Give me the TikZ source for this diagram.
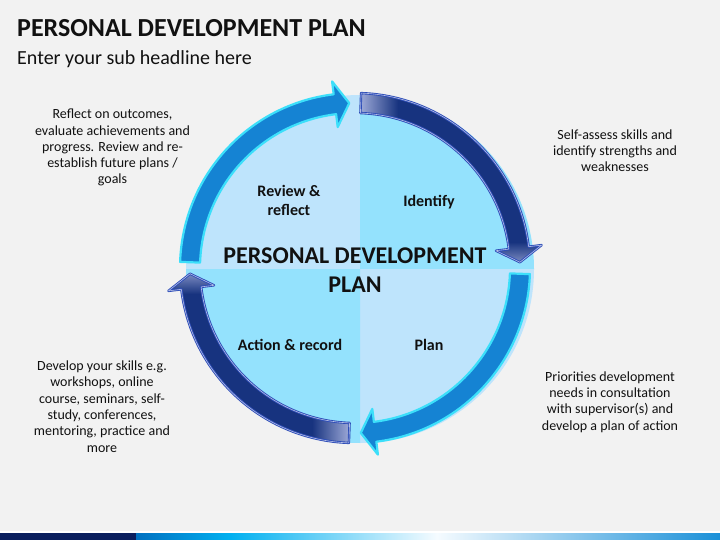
\documentclass[tikz,border=0pt]{standalone}
\usepackage{fontspec}
\setmainfont{Carlito}
\usetikzlibrary{calc}
\definecolor{bg}{HTML}{F2F2F2}
\definecolor{qlight}{HTML}{BEE4FC}
\definecolor{qcyan}{HTML}{94E2FD}
\definecolor{amid}{HTML}{1583D3}
\definecolor{aglow}{HTML}{3CDFFA}
\definecolor{anavy}{HTML}{17337F}
\definecolor{anavyedge}{HTML}{2D4DB8}
\definecolor{alav}{HTML}{B4BDE6}
\definecolor{txt}{HTML}{111111}
\definecolor{barnavy}{HTML}{0B1F5E}
\definecolor{barblue}{HTML}{0070C0}
\definecolor{barsky}{HTML}{00B0F0}
\definecolor{barwhite}{HTML}{F5FBFF}
\definecolor{barend}{HTML}{1A90D8}
\newcommand{\SetAng}[1]{%
  \pgfmathsetmacro\sA{#1-2}%
  \pgfmathsetmacro\bA{#1-83}%
  \pgfmathsetmacro\tA{#1-88}}
\newcommand{\ArrowShape}{($(C)+(\sA:175pt)$) arc[start angle=\sA,end angle=\bA,radius=175pt]
  -- ($(C)+(\bA:188pt)$) -- ($(C)+(\tA:165pt)$) -- ($(C)+(\bA:142pt)$)
  -- ($(C)+(\bA:155pt)$) arc[start angle=\bA,end angle=\sA,radius=155pt] -- cycle}
\begin{document}
\begin{tikzpicture}[x=1pt,y=1pt,
  midarrow/.style={fill=amid, draw=aglow, line width=2.2pt, line join=round},
  navyedge/.style={draw=anavyedge, line width=2.4pt, line join=round},
  navyhi/.style={draw=alav, line width=0.6pt, line join=round},
  sidetext/.style={font=\fontsize{14}{16.3}\selectfont, text=txt, align=center, inner sep=0pt, anchor=base},
  quadlabel/.style={font=\fontsize{16}{18.5}\selectfont\bfseries, text=txt, align=center, inner sep=0pt, anchor=base},
  centertitle/.style={font=\fontsize{24}{29}\selectfont\bfseries, text=txt, inner sep=0pt, anchor=base}]
\fill[bg] (0,0) rectangle (720,-540);
\useasboundingbox (0,0) rectangle (720,-540);

% quadrants
\coordinate (Q) at (360,-269);
\coordinate (C) at (355,-268);
\fill[qlight] (Q) -- ++(180:174pt) arc[start angle=180,end angle=90,radius=174pt] -- cycle;
\fill[qcyan] (Q) -- ++(90:174pt) arc[start angle=90,end angle=0,radius=174pt] -- cycle;
\fill[qlight] (Q) -- ++(0:174pt) arc[start angle=0,end angle=-90,radius=174pt] -- cycle;
\fill[qcyan] (Q) -- ++(-90:174pt) arc[start angle=-90,end angle=-180,radius=174pt] -- cycle;

% arrow 1: top-left (medium blue)
\SetAng{180}
\path[midarrow] \ArrowShape;
% arrow 3: bottom-right (medium blue)
\SetAng{0}
\path[midarrow] \ArrowShape;
% arrow 2: top-right (navy)
\SetAng{90}
\fill[anavy] \ArrowShape;
\begin{scope}
  \clip \ArrowShape;
  \shade[left color=alav, right color=anavy] (354,-80) rectangle (398,-130);
  \shade[top color=anavy, bottom color=alav!75!anavy] (488,-242) rectangle (552,-266);
\end{scope}
\path[navyedge] \ArrowShape;
\path[navyhi] \ArrowShape;
% arrow 4: bottom-left (navy)
\SetAng{270}
\fill[anavy] \ArrowShape;
\begin{scope}
  \clip \ArrowShape;
  \shade[left color=anavy, right color=alav] (312,-405) rectangle (356,-460);
  \shade[top color=alav!75!anavy, bottom color=anavy] (160,-270) rectangle (222,-294);
\end{scope}
\path[navyedge] \ArrowShape;
\path[navyhi] \ArrowShape;

% titles
\node[font=\fontsize{26}{30}\selectfont\bfseries, text=txt, inner sep=0pt, anchor=base west] (title) at (17,-37) {PERSONAL DEVELOPMENT PLAN};
\node[font=\fontsize{20}{24}\selectfont, text=txt, inner sep=0pt, anchor=base west] (subtitle) at (17,-65) {Enter your sub headline here};

% centre title
\node[centertitle] (ct1) at (355,-263) {PERSONAL DEVELOPMENT};
\node[centertitle] (ct2) at (355,-292) {PLAN};

% quadrant labels (anchor base = last line)
\node[quadlabel] (review) at (289,-215) {Review \&\\reflect};
\node[quadlabel] (identify) at (429,-206.7) {Identify};
\node[quadlabel] (action) at (290,-350) {Action \& record};
\node[quadlabel] (plan) at (429,-350) {Plan};

% side texts (anchor base = last line)
\node[sidetext] (tl) at (112.5,-184) {Reflect on outcomes,\\evaluate achievements and\\progress. Review and re-\\establish future plans /\\goals};
\node[sidetext] (tr) at (615,-172) {Self-assess skills and\\identify strengths and\\weaknesses};
\node[sidetext] (bl) at (102,-452) {Develop your skills e.g.\\workshops, online\\course, seminars, self-\\study, conferences,\\mentoring, practice and\\more};
\node[sidetext] (br) at (610,-430) {Priorities development\\needs in consultation\\with supervisor(s) and\\develop a plan of action};

% bottom bar
\fill[white] (0,-531) rectangle (720,-533);
\fill[barnavy] (0,-533) rectangle (136,-540);
\shade[left color=barblue, right color=barsky] (136,-533) rectangle (230,-540);
\shade[left color=barsky, right color=barwhite] (230,-533) rectangle (437,-540);
\shade[left color=barwhite, right color=barend] (437,-533) rectangle (720,-540);
\end{tikzpicture}
\end{document}
